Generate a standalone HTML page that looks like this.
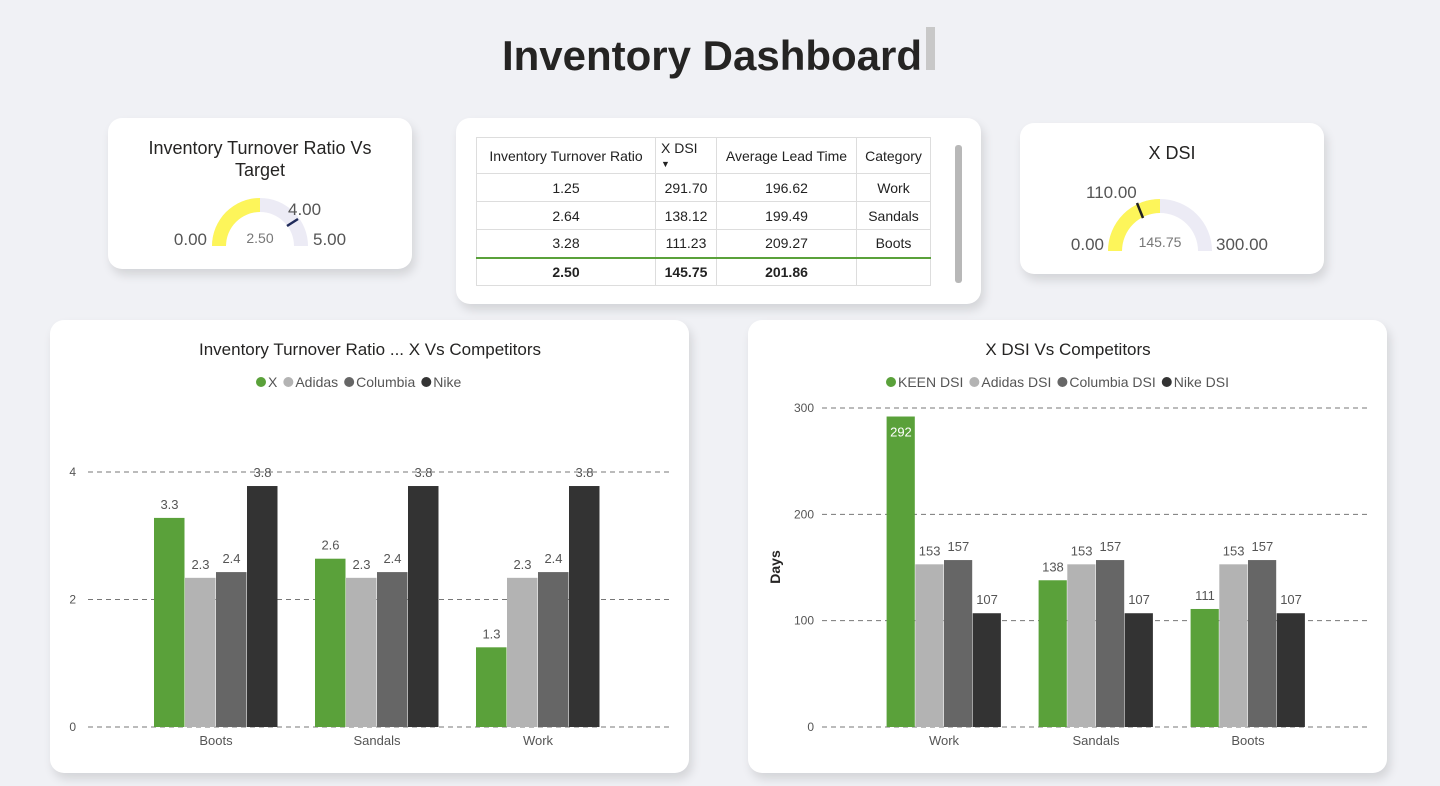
<!DOCTYPE html>
<html><head><meta charset="utf-8"><style>
body{margin:0;width:1440px;height:786px;background:#f0f1f5;font-family:"Liberation Sans","DejaVu Sans",sans-serif;position:relative;overflow:hidden;color:#252423}
.card{position:absolute;background:#fff;border-radius:14px;box-shadow:3px 6px 10px rgba(0,0,0,0.12)}
.t{position:absolute;white-space:nowrap}
table{border-collapse:collapse;font-size:14px;color:#222;table-layout:fixed}
td{border:1px solid #ddd;text-align:center;padding:0;overflow:hidden;white-space:nowrap}
</style></head><body>
<div class="t" style="left:0;width:1424px;text-align:center;top:32px;font-size:42px;font-weight:bold">Inventory Dashboard</div>
<div style="position:absolute;left:926px;top:27px;width:9px;height:43px;background:#c8c8c8"></div>

<div class="card" style="left:108px;top:118px;width:304px;height:151px">
<div class="t" style="left:0;width:304px;text-align:center;top:19px;font-size:18px;line-height:22px;white-space:normal">Inventory Turnover Ratio Vs<br>Target</div>
<svg width="304" height="151" style="position:absolute;left:0;top:0">
<path d="M104 128 A48 48 0 0 1 200 128 L186 128 A34 34 0 0 0 118 128Z" fill="#ecebf5"/>
<path d="M104 128 A48 48 0 0 1 152 80 L152 94 A34 34 0 0 0 118 128Z" fill="#fdf55a"/>
<line x1="179" y1="108" x2="190" y2="101" stroke="#1f2a5a" stroke-width="2.5"/>
<text x="152" y="125" text-anchor="middle" font-size="14" fill="#777">2.50</text>
<text x="99" y="127" text-anchor="end" font-size="17" fill="#555">0.00</text>
<text x="180" y="97" font-size="17" fill="#555">4.00</text>
<text x="205" y="127" font-size="17" fill="#555">5.00</text>
</svg></div>

<div class="card" style="left:456px;top:118px;width:525px;height:186px">
<table style="position:absolute;left:20px;top:19px;width:454px;border:1px solid #5aa13a">
<colgroup><col style="width:179px"><col style="width:61px"><col style="width:140px"><col style="width:74px"></colgroup>
<tr style="height:36px"><td>Inventory Turnover Ratio</td><td style="text-align:left;padding-left:5px;line-height:14px">X DSI<br><span style="font-size:9px">▼</span></td><td>Average Lead Time</td><td>Category</td></tr>
<tr style="height:28px"><td>1.25</td><td>291.70</td><td>196.62</td><td>Work</td></tr>
<tr style="height:28px"><td>2.64</td><td>138.12</td><td>199.49</td><td>Sandals</td></tr>
<tr style="height:28px"><td>3.28</td><td>111.23</td><td>209.27</td><td>Boots</td></tr>
<tr style="height:28px;font-weight:bold;border-top:2px solid #5aa13a"><td>2.50</td><td>145.75</td><td>201.86</td><td></td></tr>
</table>
<div style="position:absolute;left:499px;top:27px;width:7px;height:138px;background:#b8b8b8;border-radius:3px"></div>
</div>

<div class="card" style="left:1020px;top:123px;width:304px;height:151px">
<div class="t" style="left:0;width:304px;text-align:center;top:20px;font-size:18px">X DSI</div>
<svg width="304" height="151" style="position:absolute;left:0;top:0">
<path d="M88 128 A52 52 0 0 1 192 128 L178 128 A38 38 0 0 0 102 128Z" fill="#ecebf5"/>
<path d="M88 128 A52 52 0 0 1 140 76 L140 90 A38 38 0 0 0 102 128Z" fill="#fdf55a"/>
<line x1="117" y1="80" x2="123" y2="95" stroke="#222" stroke-width="2.5"/>
<text x="140" y="124" text-anchor="middle" font-size="14" fill="#777">145.75</text>
<text x="84" y="127" text-anchor="end" font-size="17" fill="#555">0.00</text>
<text x="66" y="75" font-size="17" fill="#555">110.00</text>
<text x="196" y="127" font-size="17" fill="#555">300.00</text>
</svg></div>

<div class="card" style="left:50px;top:320px;width:639px;height:453px"></div>
<div class="card" style="left:748px;top:320px;width:639px;height:453px"></div>
<svg id="charts" width="1440" height="786" style="position:absolute;left:0;top:0"></svg>
<script>
const cats1=["Boots","Sandals","Work"];
const series1=["X","Adidas","Columbia","Nike"];
const xVals=[3.28,2.64,1.25];
const adidasVals=[2.34,2.34,2.34];
const columbiaVals=[2.43,2.43,2.43];
const nikeVals=[3.78,3.78,3.78];
const ticks1=[0,2,4];
const cats2=["Work","Sandals","Boots"];
const series2=["KEEN DSI","Adidas DSI","Columbia DSI","Nike DSI"];
const keenVals=[292,138,111];
const adidasDsi=[153,153,153];
const columbiaDsi=[157,157,157];
const nikeDsi=[107,107,107];
const ticks2=[0,100,200,300];
const colors=["#5aa13a","#b3b3b3","#666666","#333333"];
const NS="http://www.w3.org/2000/svg";
const svg=document.getElementById('charts');
function el(t,a,txt){const e=document.createElementNS(NS,t);for(const k in a)e.setAttribute(k,a[k]);if(txt!==undefined)e.textContent=txt;svg.appendChild(e);return e;}
function chart(o){
 const y=v=>o.y0-v*o.k;
 const t=el('text',{x:o.cx,y:355,'text-anchor':'middle','font-size':17,fill:'#252423'},o.title);
 
 let lx=o.legX;
 o.series.forEach((s,i)=>{
  const c=el('circle',{cx:lx+5,cy:382,r:5,fill:colors[i]});
  
  const tx=el('text',{x:lx+12,y:387,'font-size':14,fill:'#555'},s);
  
  lx+=12+tx.getComputedTextLength()+6;
 });
 o.ticks.forEach(v=>{
  const g=el('line',{x1:o.x1,x2:o.x2,y1:y(v),y2:y(v),stroke:'#777','stroke-dasharray':'5,4'});
  
  const tl=el('text',{x:o.tickX,y:y(v)+4,'text-anchor':'end','font-size':12,fill:'#555'},v);
  
 });
 if(o.ytitle){const yt=el('text',{x:0,y:0,transform:`translate(780,${o.y0-160}) rotate(-90)`,'text-anchor':'middle','font-size':14,'font-weight':'bold',fill:'#252423'},o.ytitle);
  }
 o.cats.forEach((c,ci)=>{
  const cx=o.c0+ci*o.step;
  const xl=el('text',{x:cx,y:745,'text-anchor':'middle','font-size':13,fill:'#555'},c);
  
  o.vals.forEach((arr,si)=>{
   const v=arr[ci];const bx=cx-2*o.bw+si*o.bw;
   const r=el('rect',{x:bx,y:y(v),width:o.bw-0.5,height:o.y0-y(v),fill:colors[si]});
   
   const inside=o.inside&&si===0&&ci===0;
   const lbl=el('text',{x:bx+o.bw/2,y:inside?y(v)+20:y(v)-9,'text-anchor':'middle','font-size':13,fill:inside?'#fff':'#555'},o.fmt(v));
   
  });
 });
}
chart({title:"Inventory Turnover Ratio ... X Vs Competitors",cx:370,legX:256,series:series1,ticks:ticks1,y0:727,k:63.75,x1:88,x2:670,tickX:76,cats:cats1,c0:216,step:161,bw:31,vals:[xVals,adidasVals,columbiaVals,nikeVals],fmt:v=>v.toFixed(1)});
chart({title:"X DSI Vs Competitors",cx:1068,legX:886,series:series2,ticks:ticks2,y0:727,k:1.0633,x1:822,x2:1370,tickX:814,ytitle:"Days",cats:cats2,c0:944,step:152,bw:28.7,vals:[keenVals,adidasDsi,columbiaDsi,nikeDsi],fmt:v=>Math.round(v),inside:true});
</script>
</body></html>
